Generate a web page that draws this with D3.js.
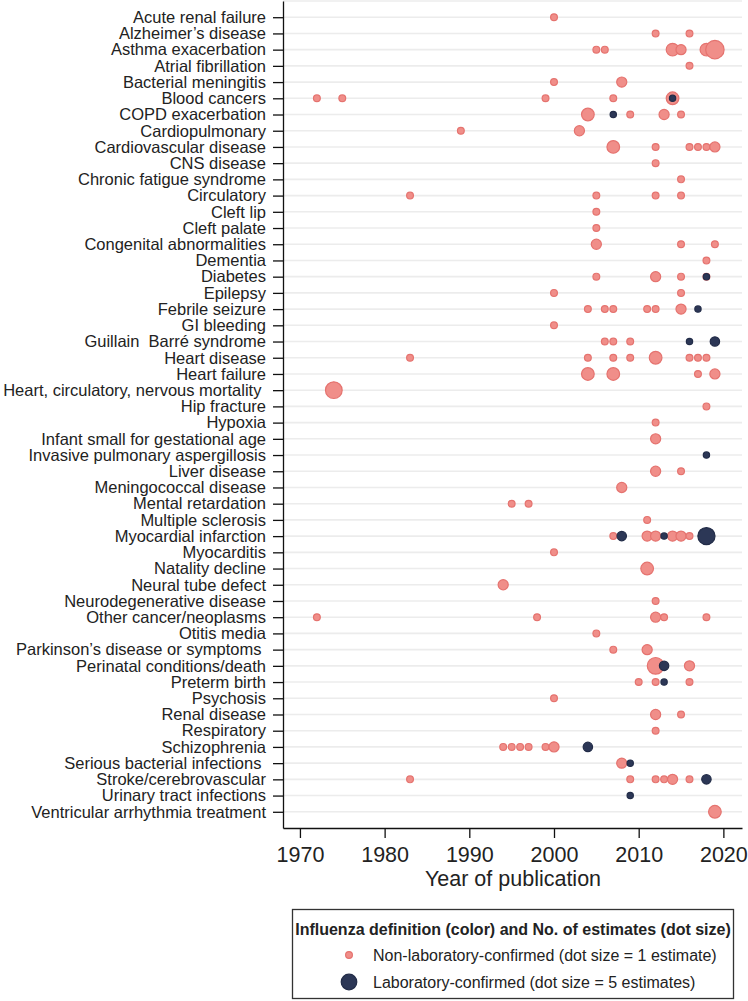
<!DOCTYPE html>
<html>
<head>
<meta charset="utf-8">
<script src="https://cdn.jsdelivr.net/npm/d3@7.9.0/dist/d3.min.js"></script>
<style>
  body { margin: 0; background: #fff; }
  svg text { font-family: "Liberation Sans", Arial, Helvetica, sans-serif; white-space: pre; }
</style>
</head>
<body>
<svg id="chart"></svg>
<script>
const categories = [
  'Acute renal failure', 'Alzheimer’s disease', 'Asthma exacerbation', 'Atrial fibrillation',
  'Bacterial meningitis', 'Blood cancers', 'COPD exacerbation', 'Cardiopulmonary',
  'Cardiovascular disease', 'CNS disease', 'Chronic fatigue syndrome', 'Circulatory',
  'Cleft lip', 'Cleft palate', 'Congenital abnormalities', 'Dementia', 'Diabetes',
  'Epilepsy', 'Febrile seizure', 'GI bleeding', 'Guillain  Barré syndrome', 'Heart disease',
  'Heart failure', 'Heart, circulatory, nervous mortality ', 'Hip fracture', 'Hypoxia',
  'Infant small for gestational age', 'Invasive pulmonary aspergillosis', 'Liver disease',
  'Meningococcal disease', 'Mental retardation', 'Multiple sclerosis', 'Myocardial infarction',
  'Myocarditis', 'Natality decline', 'Neural tube defect', 'Neurodegenerative disease',
  'Other cancer/neoplasms', 'Otitis media', 'Parkinson’s disease or symptoms ',
  'Perinatal conditions/death', 'Preterm birth', 'Psychosis', 'Renal disease', 'Respiratory',
  'Schizophrenia', 'Serious bacterial infections ', 'Stroke/cerebrovascular',
  'Urinary tract infections', 'Ventricular arrhythmia treatment'
];

// [category index (0-based), year, number of estimates]
const nonLabDots = [
  [0, 2000, 1],
  [1, 2012, 1], [1, 2016, 1],
  [2, 2005, 1], [2, 2006, 1], [2, 2014, 3], [2, 2015, 2], [2, 2018, 3], [2, 2019, 6],
  [3, 2016, 1],
  [4, 2000, 1], [4, 2008, 2],
  [5, 1972, 1], [5, 1975, 1], [5, 1999, 1], [5, 2007, 1], [5, 2014, 3],
  [6, 2004, 3], [6, 2009, 1], [6, 2013, 2], [6, 2015, 1],
  [7, 1989, 1], [7, 2003, 2],
  [8, 2007, 3], [8, 2012, 1], [8, 2016, 1], [8, 2017, 1], [8, 2018, 1], [8, 2019, 2],
  [9, 2012, 1],
  [10, 2015, 1],
  [11, 1983, 1], [11, 2005, 1], [11, 2012, 1], [11, 2015, 1],
  [12, 2005, 1],
  [13, 2005, 1],
  [14, 2005, 2], [14, 2015, 1], [14, 2019, 1],
  [15, 2018, 1],
  [16, 2005, 1], [16, 2012, 2], [16, 2015, 1], [16, 2018, 1],
  [17, 2000, 1], [17, 2015, 1],
  [18, 2004, 1], [18, 2006, 1], [18, 2007, 1], [18, 2011, 1], [18, 2012, 1], [18, 2015, 2],
  [19, 2000, 1],
  [20, 2006, 1], [20, 2007, 1], [20, 2009, 1],
  [21, 1983, 1], [21, 2004, 1], [21, 2007, 1], [21, 2009, 1], [21, 2012, 3], [21, 2016, 1], [21, 2017, 1], [21, 2018, 1],
  [22, 2004, 3], [22, 2007, 3], [22, 2017, 1], [22, 2019, 2],
  [23, 1974, 5],
  [24, 2018, 1],
  [25, 2012, 1],
  [26, 2012, 2],
  [28, 2012, 2], [28, 2015, 1],
  [29, 2008, 2],
  [30, 1995, 1], [30, 1997, 1],
  [31, 2011, 1],
  [32, 2007, 1], [32, 2011, 2], [32, 2012, 2], [32, 2014, 2], [32, 2015, 2], [32, 2016, 1],
  [33, 2000, 1],
  [34, 2011, 3],
  [35, 1994, 2],
  [36, 2012, 1],
  [37, 1972, 1], [37, 1998, 1], [37, 2012, 2], [37, 2013, 1], [37, 2018, 1],
  [38, 2005, 1],
  [39, 2007, 1], [39, 2011, 2],
  [40, 2012, 5], [40, 2016, 2],
  [41, 2010, 1], [41, 2012, 1], [41, 2016, 1],
  [42, 2000, 1],
  [43, 2012, 2], [43, 2015, 1],
  [44, 2012, 1],
  [45, 1994, 1], [45, 1995, 1], [45, 1996, 1], [45, 1997, 1], [45, 1999, 1], [45, 2000, 2],
  [46, 2008, 2],
  [47, 1983, 1], [47, 2009, 1], [47, 2012, 1], [47, 2013, 1], [47, 2014, 2], [47, 2016, 1],
  [49, 2019, 3]
];

const labDots = [
  [5, 2014, 1],
  [6, 2007, 1],
  [16, 2018, 1],
  [18, 2017, 1],
  [20, 2016, 1], [20, 2019, 2],
  [27, 2018, 1],
  [32, 2008, 2], [32, 2013, 1], [32, 2018, 6],
  [40, 2013, 2],
  [41, 2013, 1],
  [45, 2004, 2],
  [46, 2009, 1],
  [47, 2018, 2],
  [48, 2009, 1]
];

const yearTicks = [1970, 1980, 1990, 2000, 2010, 2020];

const pink = { fill: '#f08e89', stroke: '#e5736f', k: 4 };
const navy = { fill: '#2c3756', stroke: '#222c48', k: 3.75 };

const width = 748;
const height = 1001;

const svg = d3.select('#chart').attr('width', width).attr('height', height);

const x = d3.scaleLinear().domain([1968, 2022.2]).range([283, 742]);
const y = d3.scaleLinear().domain([0, categories.length + 1]).range([1, 828]);
const radius = (n, style) => style.k * Math.sqrt(n) - 0.6;

// light horizontal gridlines at each row
svg.append('g')
  .selectAll('line')
  .data(d3.range(0, categories.length + 1))
  .join('line')
  .attr('x1', x.range()[0])
  .attr('x2', x.range()[1])
  .attr('y1', (d) => y(d))
  .attr('y2', (d) => y(d))
  .attr('stroke', '#ececec')
  .attr('stroke-width', 1.6);

// dots: non-lab first, lab-confirmed on top
const drawDots = (rows, style) => {
  svg.append('g')
    .selectAll('circle')
    .data(rows)
    .join('circle')
    .attr('cx', (d) => x(d[1]))
    .attr('cy', (d) => y(d[0] + 1))
    .attr('r', (d) => radius(d[2], style))
    .attr('fill', style.fill)
    .attr('stroke', style.stroke)
    .attr('stroke-width', 1.2);
};
drawDots(nonLabDots, pink);
drawDots(labDots, navy);

// y axis
const yAxis = svg.append('g')
  .attr('transform', `translate(${x.range()[0]},0)`)
  .call(
    d3.axisLeft(y)
      .tickValues(d3.range(1, categories.length + 1))
      .tickFormat((i) => categories[i - 1])
      .tickSize(10)
      .tickSizeOuter(0)
      .tickPadding(7)
  );
yAxis.selectAll('text').attr('font-size', 16.5).attr('fill', '#222');
yAxis.selectAll('line, path').attr('stroke', '#111').attr('stroke-width', 1.3);

// x axis
const xAxis = svg.append('g')
  .attr('transform', `translate(0,${y.range()[1]})`)
  .call(
    d3.axisBottom(x)
      .tickValues(yearTicks)
      .tickFormat(d3.format('d'))
      .tickSize(10)
      .tickSizeOuter(0)
      .tickPadding(9)
  );
xAxis.selectAll('text').attr('font-size', 21.5).attr('fill', '#222');
xAxis.selectAll('line, path').attr('stroke', '#111').attr('stroke-width', 1.3);

svg.append('text')
  .attr('x', 513)
  .attr('y', 886)
  .attr('text-anchor', 'middle')
  .attr('font-size', 21.5)
  .attr('fill', '#222')
  .text('Year of publication');

// legend
const legend = svg.append('g');
legend.append('rect')
  .attr('x', 292.5).attr('y', 909.5)
  .attr('width', 441).attr('height', 89)
  .attr('fill', 'none')
  .attr('stroke', '#333')
  .attr('stroke-width', 1.3);
legend.append('text')
  .attr('x', 513).attr('y', 935)
  .attr('text-anchor', 'middle')
  .attr('font-size', 16)
  .attr('font-weight', 'bold')
  .attr('fill', '#222')
  .text('Influenza definition (color) and No. of estimates (dot size)');

const legendItems = [
  { label: 'Non-laboratory-confirmed (dot size = 1 estimate)', n: 1, style: pink },
  { label: 'Laboratory-confirmed (dot size = 5 estimates)', n: 5, style: navy }
];
legendItems.forEach((item, i) => {
  const cy = 955 + i * 27;
  legend.append('circle')
    .attr('cx', 349).attr('cy', cy)
    .attr('r', radius(item.n, item.style))
    .attr('fill', item.style.fill)
    .attr('stroke', item.style.stroke)
    .attr('stroke-width', 1.2);
  legend.append('text')
    .attr('x', 373).attr('y', cy + 5.5)
    .attr('font-size', 16)
    .attr('fill', '#222')
    .text(item.label);
});
</script>
</body>
</html>
